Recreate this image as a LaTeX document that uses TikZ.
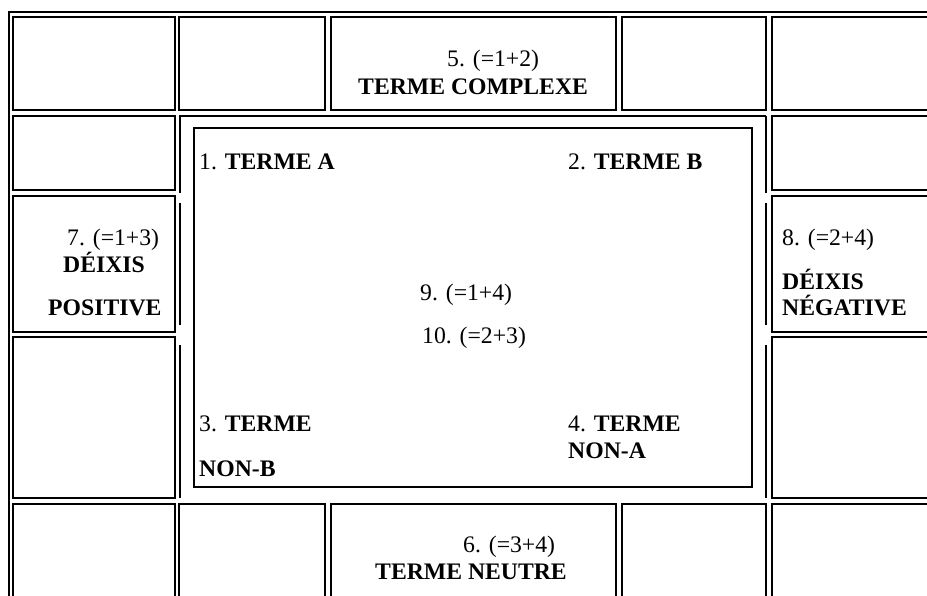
\documentclass[tikz,border=0pt]{standalone}
\usepackage{fontspec}
\setmainfont{Liberation Serif}
\tikzset{
  cell/.style     = {draw=black, line width=1.2pt},
  celledge/.style = {draw=black, line width=1.8pt},
  frame/.style    = {draw=black, line width=2pt},
  termbox/.style  = {draw=black, line width=2.2pt},
  lbl/.style      = {anchor=base west, inner sep=0pt,
                     font=\fontsize{23.7}{27}\selectfont}
}

\begin{document}
\begin{tikzpicture}[x=1pt, y=-1pt]
\useasboundingbox (0,0) rectangle (927,596);
\clip (0,0) rectangle (927,596);

% ---- Outer table frame ----
\draw[frame] (9,610) -- (9,12) -- (940,12);

% ---- Top and bottom rows ----
\foreach \ya/\yb in {17/110, 504/610} {
  \foreach \xa/\xb in {13/175, 179/325, 331/616, 622/766, 772/940} {
    \draw[cell] (\xa,\ya) rectangle (\xb,\yb);
    \draw[celledge] (\xa,\ya) -- (\xa,\yb);
  }
}
% ---- Side columns, rows 2-4 ----
\foreach \ya/\yb in {116/190, 196/332, 337/498} {
  \foreach \xa/\xb in {13/175, 772/940} {
    \draw[cell] (\xa,\ya) rectangle (\xb,\yb);
    \draw[celledge] (\xa,\ya) -- (\xa,\yb);
  }
}
% ---- Centre cell (open at the bottom, broken sides) ----
\draw[cell] (179,116) -- (766,116);
\foreach \ya/\yb in {116/193, 203/325, 345/498} {
  \draw[celledge] (180,\ya) -- (180,\yb);
  \draw[celledge] (766,\ya) -- (766,\yb);
}

% ---- Square of terms ----
\draw[termbox] (194,128) rectangle (752,487);

% ---- Labels ----
\node[lbl] (cplxnum)  at (447,67)  {5. (=1+2)};
\node[lbl] (cplx)     at (358,95)  {\textbf{TERME COMPLEXE}};
\node[lbl] (termA)    at (199,170) {1. \textbf{TERME A}};
\node[lbl] (termB)    at (568,170) {2. \textbf{TERME B}};
\node[lbl] (posnum)   at (67,246)  {7. (=1+3)};
\node[lbl] (posdeix)  at (63,273)  {\textbf{DÉIXIS}};
\node[lbl] (pos)      at (48,316)  {\textbf{POSITIVE}};
\node[lbl] (negnum)   at (782,246) {8. (=2+4)};
\node[lbl] (negdeix)  at (782,290) {\textbf{DÉIXIS}};
\node[lbl] (neg)      at (782,316) {\textbf{NÉGATIVE}};
\node[lbl] (diagA)    at (420,301) {9. (=1+4)};
\node[lbl] (diagB)    at (422,343) {10. (=2+3)};
\node[lbl] (nonBnum)  at (199,431) {3. \textbf{TERME}};
\node[lbl] (nonB)     at (199,476) {\textbf{NON-B}};
\node[lbl] (nonAnum)  at (568,431) {4. \textbf{TERME}};
\node[lbl] (nonA)     at (568,458) {\textbf{NON-A}};
\node[lbl] (neutnum)  at (463,552) {6. (=3+4)};
\node[lbl] (neut)     at (375,579) {\textbf{TERME NEUTRE}};
\end{tikzpicture}
\end{document}
